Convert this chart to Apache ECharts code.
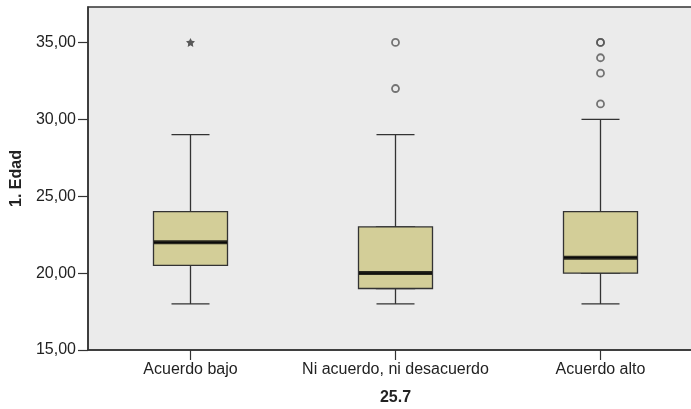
<!DOCTYPE html>
<html>
<head>
<meta charset="utf-8">
<script src="https://cdn.jsdelivr.net/npm/echarts@6/dist/echarts.min.js"></script>
<style>
  html, body { margin: 0; padding: 0; background: #fff; }
  #chart { width: 691px; height: 409px; }
</style>
</head>
<body>
<div id="chart"></div>
<script>
// categorias del eje x (25.7)
var categories = ['Acuerdo bajo', 'Ni acuerdo, ni desacuerdo', 'Acuerdo alto'];
// estadisticos de cada caja (1. Edad)
var lowWhisker = [18, 18, 18];
var q1 = [20.5, 19, 20];
var median = [22, 20, 21];
var q3 = [24, 23, 24];
var highWhisker = [29, 29, 30];
// atipicos (circulo) y extremos (estrella): [indice categoria, valor]
var outliers = [[1, 35], [1, 32], [2, 35], [2, 35], [2, 34], [2, 33], [2, 31]];
var extremes = [[0, 35]];
var yTicks = [15, 20, 25, 30, 35];

var textFont = 'Liberation Sans, Arial, sans-serif';
var lineColor = '#333';

var chart = echarts.init(document.getElementById('chart'));

var whiskerData = [];
var boxData = [];
var medianData = [];
for (var i = 0; i < categories.length; i++) {
    whiskerData.push([lowWhisker[i], q1[i], median[i], q3[i], highWhisker[i]]);
    boxData.push([q1[i], q1[i], median[i], q3[i], q3[i]]);
    medianData.push([i, median[i]]);
}

function xAxisCfg(show) {
    return {
        type: 'category',
        data: categories,
        show: show,
        boundaryGap: true,
        axisLine: { show: true, lineStyle: { color: lineColor, width: 1.5 } },
        axisTick: { show: true, alignWithLabel: true, length: 10, lineStyle: { color: lineColor, width: 1.2 } },
        axisLabel: { color: '#222', fontSize: 16, fontFamily: textFont, margin: 12, interval: 0 },
        name: show ? '25.7' : '',
        nameLocation: 'middle',
        nameGap: 40,
        nameTextStyle: { color: '#222', fontSize: 16, fontWeight: 'bold', fontFamily: textFont },
        splitLine: { show: false }
    };
}

var option = {
    backgroundColor: '#fff',
    animation: false,
    grid: {
        left: 88,
        top: 7,
        width: 615,
        height: 343,
        outerBoundsMode: 'none',
        containLabel: false,
        show: true,
        backgroundColor: '#ebebeb',
        borderColor: lineColor,
        borderWidth: 1.5
    },
    xAxis: [xAxisCfg(true), xAxisCfg(false)],
    yAxis: {
        type: 'value',
        min: 15,
        max: 37.3,
        interval: 5,
        axisLine: { show: true, lineStyle: { color: lineColor, width: 1.5 } },
        axisTick: { show: true, length: 10, customValues: yTicks, lineStyle: { color: lineColor, width: 1.2 } },
        axisLabel: {
            color: '#222', fontSize: 16, fontFamily: textFont, margin: 12,
            customValues: yTicks,
            formatter: function (v) { return v.toFixed(2).replace('.', ','); }
        },
        splitLine: { show: false },
        name: '1. Edad',
        nameLocation: 'middle',
        nameRotate: 90,
        nameGap: 51,
        nameTextStyle: { color: '#222', fontSize: 16, fontWeight: 'bold', fontFamily: textFont }
    },
    series: [
        {
            // bigotes con extremos cortos
            type: 'boxplot',
            xAxisIndex: 0,
            boxWidth: [38, 38],
            z: 2,
            itemStyle: { color: 'transparent', borderColor: lineColor, borderWidth: 1.3 },
            data: whiskerData
        },
        {
            // caja Q1-Q3
            type: 'boxplot',
            xAxisIndex: 1,
            boxWidth: [74, 74],
            z: 3,
            itemStyle: { color: '#d3ce98', borderColor: lineColor, borderWidth: 1.3 },
            data: boxData
        },
        {
            // mediana
            type: 'scatter',
            xAxisIndex: 0,
            z: 4,
            symbol: 'rect',
            symbolSize: [73, 4],
            itemStyle: { color: '#000' },
            data: medianData
        },
        {
            type: 'scatter',
            xAxisIndex: 0,
            z: 5,
            symbol: 'circle',
            symbolSize: 7,
            itemStyle: { color: 'transparent', borderColor: '#555', borderWidth: 1.8 },
            data: outliers
        },
        {
            type: 'scatter',
            xAxisIndex: 0,
            z: 5,
            symbol: 'path://M0,-10 L2.9,-4 9.5,-3.1 4.8,1.5 5.9,8.1 0,5 -5.9,8.1 -4.8,1.5 -9.5,-3.1 -2.9,-4 Z',
            symbolSize: 9,
            itemStyle: { color: '#333' },
            data: extremes
        }
    ]
};

chart.setOption(option);
</script>
</body>
</html>
